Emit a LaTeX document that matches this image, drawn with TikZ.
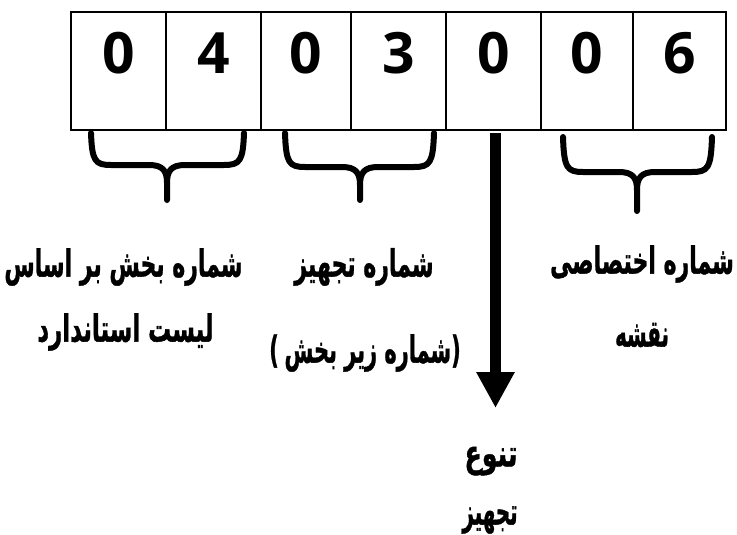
\documentclass[tikz,border=0pt]{standalone}
\usepackage{fontspec}
\usetikzlibrary{arrows.meta}
\TeXXeTstate=1
\newfontfamily\arabicfont[Script=Arabic, BoldFeatures={FakeBold=1.2}]{DejaVu Sans}
\newfontfamily\parenfont[BoldFeatures={FakeBold=1.2}]{DejaVu Sans}
\newfontfamily\digitfont{Open Sans}
\tikzset{
  cell/.style={draw, line width=1.3pt, minimum height=118pt, inner sep=0pt},
  digit/.style={font=\digitfont\bfseries\fontsize{57}{60}\selectfont, inner sep=0pt, anchor=base},
  lbl/.style={font=\arabicfont\bfseries\fontsize{22}{26}\selectfont, inner sep=0pt},
  bracestyle/.style={line width=6pt, line cap=round, line join=round},
  arrowstyle/.style={line width=11pt, -{Triangle[width=36pt,length=36pt]}}
}
\newcommand\rtl[2][1]{\scalebox{#1}[1.7]{\beginR #2\endR}}
\newcommand\rtlp[2][1]{\scalebox{#1}[1.7]{{\parenfont\bfseries(}\hspace{6pt}\beginR #2\endR{\parenfont\bfseries)}}}
\newcommand\drawbrace[6]{%
  \draw[bracestyle] (#1,#4) .. controls ({#1+1},{#5-4}) and ({#1+4},#5) .. ({#1+20},#5) -- ({#3-18},#5)
     .. controls ({#3-4},#5) and (#3,{#5+6}) .. (#3,{#5+18}) -- (#3,#6);
  \draw[bracestyle] (#2,#4) .. controls ({#2-1},{#5-4}) and ({#2-4},#5) .. ({#2-20},#5) -- ({#3+18},#5)
     .. controls ({#3+4},#5) and (#3,{#5+6}) .. (#3,{#5+18});
}
\begin{document}
\begin{tikzpicture}[x=1pt, y=-1pt]
\useasboundingbox (0,0) rectangle (737,535);
% cells
\node[cell, minimum width=95pt] (c1) at (118.5,71) {};
\node[cell, minimum width=95pt] (c2) at (213.5,71) {};
\node[cell, minimum width=90pt] (c3) at (306,71) {};
\node[cell, minimum width=95pt] (c4) at (398.5,71) {};
\node[cell, minimum width=95pt] (c5) at (493.5,71) {};
\node[cell, minimum width=92pt] (c6) at (587,71) {};
\node[cell, minimum width=93pt] (c7) at (679.5,71) {};
% digits
\node[digit] (d1) at (118.5,74) {0};
\node[digit] (d2) at (213.5,74) {4};
\node[digit] (d3) at (306,74) {0};
\node[digit] (d4) at (398.5,74) {3};
\node[digit] (d5) at (493.5,74) {0};
\node[digit] (d6) at (587,74) {0};
\node[digit] (d7) at (679.5,74) {6};
% braces
\drawbrace{91}{244}{167}{133}{165}{200}
\drawbrace{285}{434}{360}{133}{167}{200}
\drawbrace{563}{712}{637}{137}{172}{211}
% arrow
\coordinate (atop) at (495.5,133);
\coordinate (atip) at (495.5,408);
\draw[arrowstyle] (atop) -- (atip);
% labels
\node[lbl] (l1a) at (123.5,267) {\rtl{شماره بخش بر اساس}};
\node[lbl] (l1b) at (125.5,332) {\rtl[1.04]{لیست استاندارد}};
\node[lbl] (l2a) at (364,267) {\rtl{شماره تجهیز}};
\node[lbl] (l2b) at (365,353) {\rtlp[0.95]{شماره زیر بخش}};
\node[lbl] (l3a) at (642,264) {\rtl{شماره اختصاصی}};
\node[lbl] (l3b) at (642,335) {\rtl[0.9]{نقشه}};
\node[lbl] (l4a) at (491,461) {\rtl[1.15]{تنوع}};
\node[lbl] (l4b) at (490,520) {\rtl[0.9]{تجهیز}};
\end{tikzpicture}
\end{document}
